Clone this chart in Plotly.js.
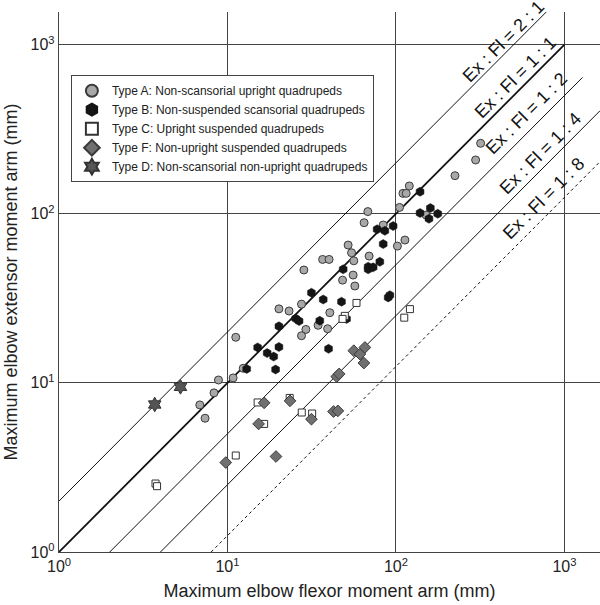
<!DOCTYPE html>
<html>
<head>
<meta charset="utf-8">
<script src="https://cdn.plot.ly/plotly-3.0.1.min.js"></script>
<style>html,body{margin:0;padding:0;background:#fff;}#chart{width:600px;height:605px;}</style>
</head>
<body>
<div id="chart"></div>
<script>
// Type A: Non-scansorial upright quadrupeds (flexor, extensor moment arms in mm)
const typeA_x = [8.84,10.8,8.32,6.85,7.36,11.2,12.4,36.7,40.1,28.4,48.2,27.5,40.5,20.2,23.2,34.5,29.2,39.3,27.5,52.0,54.5,56.2,69.3,55.7,57.0,102,113,318,297,224,120,110,115,105,68.1,64.7,151,84.0];
const typeA_y = [10.4,10.7,8.73,7.41,6.18,18.6,12.2,53.7,53.7,46.5,40.5,29.2,26.0,27.4,26.6,21.9,20.7,20.9,19.0,65.3,58.8,52.7,56.2,43.4,37.4,64.4,69.9,261,208,168,146,132,132,109,103,88.5,98.2,85.8];
// Type B: Non-suspended scansorial quadrupeds
const typeB_x = [13.0,17.2,18.8,19.3,15.1,20.2,39.8,31.5,37.0,47.5,25.4,26.6,35.3,20.2,50.9,48.6,68.4,68.4,73.2,80.2,84.0,89.9,92.0,139,139,160,157,177,96.2,77.3,85.9];
const typeB_y = [12.1,15.0,14.3,12.0,16.2,16.3,15.9,34.1,31.1,30.2,24.0,23.2,23.3,21.6,23.9,46.9,48.6,46.9,48.2,52.0,66.2,32.0,33.0,135,101,108,93.4,100,84.6,80.9,79.3];
// Type C: Upright suspended quadrupeds
const typeC_x = [3.74,3.82,11.2,15.1,23.4,27.6,31.8,16.5,121,112,58.3,49.7,48.2];
const typeC_y = [2.54,2.45,3.72,7.66,8.15,6.68,6.59,5.72,27.3,24.3,29.7,24.9,23.9];
// Type F: Non-upright suspended quadrupeds
const typeF_x = [9.77,16.5,23.5,31.5,42.6,45.2,15.3,19.4,44.5,46.0,56.2,61.1,64.5,65.4];
const typeF_y = [3.38,7.62,7.83,6.10,6.77,6.83,5.72,3.67,10.9,11.3,15.5,14.8,13.1,16.2];
// Type D: Non-scansorial non-upright quadrupeds
const typeD_x = [3.70,5.26];
const typeD_y = [7.45,9.47];

// Reference ratio lines Ex : Fl
const ratioLabels = ['Ex : Fl = 2 : 1','Ex : Fl = 1 : 1','Ex : Fl = 1 : 2','Ex : Fl = 1 : 4','Ex : Fl = 1 : 8'];
const ratios = [2, 1, 0.5, 0.25, 0.125];
const lineStartX = [1, 1, 2, 4, 8];
const lineEndX = [780, 1000, 1280, 1630, 1630];
const tickVals = [1, 10, 100, 1000];
const tickText = ['10<sup>0</sup>','10<sup>1</sup>','10<sup>2</sup>','10<sup>3</sup>'];

const FONT = 'Liberation Sans, Arial, sans-serif';
const lineWidths = [1, 1.8, 1, 1, 1];
const lineDash = ['solid','solid','solid','solid','dot'];
const labelPos = [[2.640,3.022],[2.712,2.809],[2.777,2.596],[2.860,2.360],[2.878,2.094]];

const traces = [];
ratios.forEach((r, i) => {
  traces.push({
    x: [lineStartX[i], lineEndX[i]],
    y: [lineStartX[i] * r, lineEndX[i] * r],
    mode: 'lines', type: 'scatter', showlegend: false, hoverinfo: 'skip',
    line: {color: '#111', width: lineWidths[i], dash: lineDash[i]}
  });
});

traces.push({x: typeA_x, y: typeA_y, mode: 'markers', type: 'scatter',
  name: 'Type A: Non-scansorial upright quadrupeds',
  marker: {symbol: 'circle', size: 8, color: '#a8a8a8', line: {color: '#3a3a3a', width: 1}}});
traces.push({x: typeB_x, y: typeB_y, mode: 'markers', type: 'scatter',
  name: 'Type B: Non-suspended scansorial quadrupeds',
  marker: {symbol: 'hexagon', size: 9, color: '#151515', line: {color: '#151515', width: 0.5}}});
traces.push({x: typeC_x, y: typeC_y, mode: 'markers', type: 'scatter',
  name: 'Type C: Upright suspended quadrupeds',
  marker: {symbol: 'square', size: 7, color: '#ffffff', line: {color: '#333', width: 1}}});
traces.push({x: typeF_x, y: typeF_y, mode: 'markers', type: 'scatter',
  name: 'Type F: Non-upright suspended quadrupeds',
  marker: {symbol: 'diamond', size: 9, color: '#707070', line: {color: '#3a3a3a', width: 1}}});
traces.push({x: typeD_x, y: typeD_y, mode: 'markers', type: 'scatter',
  name: 'Type D: Non-scansorial non-upright quadrupeds',
  marker: {symbol: 'hexagram', size: 11, color: '#555555', line: {color: '#333', width: 1}}});

const annotations = ratioLabels.map((t, i) => ({
  x: labelPos[i][0], y: labelPos[i][1], xref: 'x', yref: 'y',
  text: t, showarrow: false, textangle: -45,
  xanchor: 'center', yanchor: 'middle',
  font: {family: FONT, size: 18, color: '#111'}
}));

const axisCommon = {
  type: 'log', tickmode: 'array', tickvals: tickVals, ticktext: tickText,
  showgrid: true, gridcolor: '#444', gridwidth: 1,
  showline: true, linecolor: '#444', linewidth: 1.2, mirror: false,
  ticks: '', zeroline: false,
  tickfont: {family: FONT, size: 16, color: '#222'}
};

const layout = {
  width: 600, height: 605,
  margin: {l: 59, r: 0, t: 12, b: 53},
  paper_bgcolor: '#fff', plot_bgcolor: '#fff',
  font: {family: FONT, color: '#222'},
  xaxis: Object.assign({}, axisCommon, {
    range: [0, 3.211],
    title: {text: 'Maximum elbow flexor moment arm (mm)', font: {family: FONT, size: 18, color: '#222'}, standoff: 10}
  }),
  yaxis: Object.assign({}, axisCommon, {
    range: [0, 3.193],
    title: {text: 'Maximum elbow extensor moment arm (mm)', font: {family: FONT, size: 18, color: '#222'}, standoff: 8}
  }),
  legend: {
    x: 0.022, y: 0.883, xanchor: 'left', yanchor: 'top',
    bgcolor: '#fff', bordercolor: '#444', borderwidth: 1,
    font: {family: FONT, size: 12, color: '#222'},
    itemsizing: 'constant', tracegroupgap: 0
  },
  annotations: annotations,
  showlegend: true
};

Plotly.newPlot('chart', traces, layout, {staticPlot: true, displayModeBar: false});
</script>
</body>
</html>
